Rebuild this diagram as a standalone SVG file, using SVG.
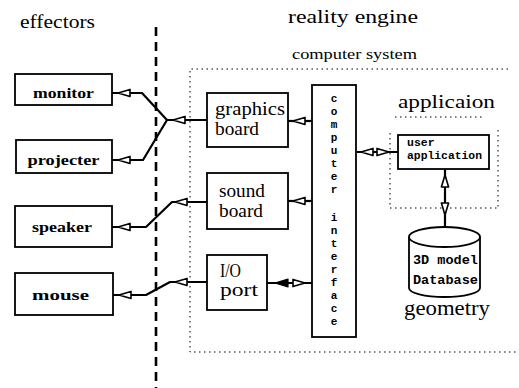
<svg xmlns="http://www.w3.org/2000/svg" xmlns:xlink="http://www.w3.org/1999/xlink" width="519" height="388" viewBox="0 0 519 388">
  <style>
    .box { fill: #fff; stroke: #000; stroke-width: 1.8; }
    .dot { fill: none; stroke: #000; stroke-width: 1; stroke-dasharray: 1.5 3.5; }
    .wire { fill: none; stroke: #000; stroke-width: 2.2; stroke-linejoin: round; }
    .serif { font-family: 'Liberation Serif', 'Times New Roman', 'DejaVu Serif', serif; fill: #000; }
    .title { font-size: 19px; }
    .label { font-size: 18px; }
    .dev { font-size: 15px; font-weight: bold; }
    .mono { font-family: 'Liberation Mono', 'DejaVu Sans Mono', monospace; font-weight: bold; fill: #000; }
  </style>
  <defs>
    <!-- hollow arrowhead, tip at origin, pointing left -->
    <path id="ah" d="M0,0 L12,-3.6 L12,3.6 Z" fill="#fff" stroke="#000" stroke-width="1.6" stroke-linejoin="round"/>
    <path id="ahf" d="M0,0 L13,-4 L13,4 Z" fill="#000" stroke="#000" stroke-width="1.2" stroke-linejoin="round"/>
  </defs>

  <rect width="519" height="388" fill="#fff"/>

  <!-- headings -->
  <text class="serif title" x="20" y="28" textLength="75" lengthAdjust="spacingAndGlyphs">effectors</text>
  <text class="serif title" x="288" y="23" textLength="130" lengthAdjust="spacingAndGlyphs">reality engine</text>
  <text class="serif" x="292" y="59" style="font-size:15px" textLength="125" lengthAdjust="spacingAndGlyphs">computer system</text>

  <!-- boundary between effectors and the engine -->
  <line x1="156" y1="27" x2="156" y2="388" stroke="#000" stroke-width="2.6" stroke-dasharray="9 6"/>

  <!-- computer system frame -->
  <path class="dot" d="M508,69 H190 V352 H519"/>

  <!-- application frame -->
  <g id="application-area">
    <text class="serif title" x="398" y="108" textLength="97" lengthAdjust="spacingAndGlyphs">applicaion</text>
    <path class="dot" d="M395,117 H482"/>
    <path class="dot" d="M390,133 V208 H500 M498,130 V208"/>
  </g>

  <!-- connectors -->
  <g id="connectors">
    <path class="wire" d="M207,120 H167 L142,93 H112"/>
    <path class="wire" d="M167,120 L143,160 H112"/>
    <path class="wire" d="M207,202 H172 L146,227 H112"/>
    <path class="wire" d="M207,282 H170 L146,295 H113"/>
    <path class="wire" d="M288,121 H312"/>
    <path class="wire" d="M288,201 H312"/>
    <path class="wire" d="M267,283 H312"/>
    <path class="wire" d="M357,152 H398"/>
    <path class="wire" d="M445,169 V227"/>

    <use xlink:href="#ah" transform="translate(118,93)"/>
    <use xlink:href="#ah" transform="translate(118,160)"/>
    <use xlink:href="#ah" transform="translate(173,120)"/>
    <use xlink:href="#ah" transform="translate(118,227)"/>
    <use xlink:href="#ah" transform="translate(175,202)"/>
    <use xlink:href="#ah" transform="translate(119,295)"/>
    <use xlink:href="#ah" transform="translate(175,282)"/>
    <use xlink:href="#ah" transform="translate(293,121)"/>
    <use xlink:href="#ah" transform="translate(293,201)"/>
    <use xlink:href="#ahf" transform="translate(275,283)"/>
    <use xlink:href="#ah" transform="translate(305,283) rotate(180)"/>
    <use xlink:href="#ah" transform="translate(361,152)"/>
    <use xlink:href="#ah" transform="translate(389,152) rotate(180)"/>
    <use xlink:href="#ah" transform="translate(445,175) rotate(90)"/>
    <use xlink:href="#ah" transform="translate(445,215) rotate(-90)"/>
  </g>

  <!-- effectors -->
  <g id="monitor">
    <rect class="box" x="15" y="74" width="97" height="31"/>
    <text class="serif dev" x="63.5" y="98" text-anchor="middle" textLength="61" lengthAdjust="spacingAndGlyphs">monitor</text>
  </g>
  <g id="projecter">
    <rect class="box" x="16" y="140" width="96" height="33"/>
    <text class="serif dev" x="63.5" y="165" text-anchor="middle" textLength="72" lengthAdjust="spacingAndGlyphs">projecter</text>
  </g>
  <g id="speaker">
    <rect class="box" x="15" y="206" width="97" height="41"/>
    <text class="serif dev" x="62" y="232" text-anchor="middle" textLength="60" lengthAdjust="spacingAndGlyphs">speaker</text>
  </g>
  <g id="mouse">
    <rect class="box" x="15" y="273" width="98" height="42"/>
    <text class="serif dev" x="60.5" y="300" text-anchor="middle" textLength="57" lengthAdjust="spacingAndGlyphs">mouse</text>
  </g>

  <!-- engine boards -->
  <g id="graphics-board">
    <rect class="box" x="207" y="93" width="81" height="54"/>
    <text class="serif label" x="215" y="115" textLength="70" lengthAdjust="spacingAndGlyphs">graphics</text>
    <text class="serif label" x="215" y="135" textLength="44" lengthAdjust="spacingAndGlyphs">board</text>
  </g>
  <g id="sound-board">
    <rect class="box" x="207" y="173" width="81" height="56"/>
    <text class="serif label" x="219" y="197" textLength="46" lengthAdjust="spacingAndGlyphs">sound</text>
    <text class="serif label" x="219" y="217" textLength="44" lengthAdjust="spacingAndGlyphs">board</text>
  </g>
  <g id="io-port">
    <rect class="box" x="207" y="255" width="60" height="55"/>
    <text class="serif label" x="220" y="277" textLength="21" lengthAdjust="spacingAndGlyphs">I/O</text>
    <text class="serif label" x="220" y="296" textLength="38" lengthAdjust="spacingAndGlyphs">port</text>
  </g>

  <g id="computer-interface">
    <rect class="box" x="312" y="85" width="44" height="252"/>
    <g class="mono" font-size="11" text-anchor="middle">
      <text x="334" y="102">c</text>
      <text x="334" y="115">o</text>
      <text x="334" y="128">m</text>
      <text x="334" y="141">p</text>
      <text x="334" y="154">u</text>
      <text x="334" y="167">t</text>
      <text x="334" y="180">e</text>
      <text x="334" y="193">r</text>
      <text x="334" y="221">i</text>
      <text x="334" y="234">n</text>
      <text x="334" y="247">t</text>
      <text x="334" y="260">e</text>
      <text x="334" y="273">r</text>
      <text x="334" y="286">f</text>
      <text x="334" y="299">a</text>
      <text x="334" y="312">c</text>
      <text x="334" y="325">e</text>
    </g>
  </g>

  <g id="user-application">
    <rect class="box" x="398" y="135" width="91" height="34"/>
    <text class="mono" x="407" y="146" font-size="11.5">user</text>
    <text class="mono" x="407" y="159" font-size="11.5" textLength="75" lengthAdjust="spacingAndGlyphs">application</text>
  </g>

  <g id="model-database">
    <path class="box" d="M409,237 V288 A35.5,9 0 0 0 480,288 V237"/>
    <ellipse class="box" cx="444.5" cy="237" rx="35.5" ry="10"/>
    <text class="mono" x="413" y="264" font-size="13" textLength="65" lengthAdjust="spacingAndGlyphs">3D model</text>
    <text class="mono" x="413" y="284" font-size="13" textLength="65" lengthAdjust="spacingAndGlyphs">Database</text>
    <text class="serif" x="404" y="315" style="font-size:20px" textLength="86" lengthAdjust="spacingAndGlyphs">geometry</text>
  </g>
</svg>
